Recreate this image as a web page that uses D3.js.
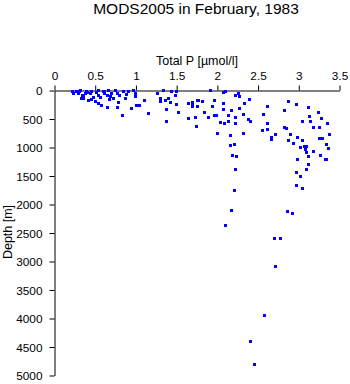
<!DOCTYPE html>
<html>
<head>
<meta charset="utf-8">
<script src="https://cdn.jsdelivr.net/npm/d3@7"></script>
<style>
  html, body { margin: 0; padding: 0; background: #fff; }
  svg { display: block; }
  text { font-family: "Liberation Sans", Arial, Helvetica, sans-serif; fill: #000; }
</style>
</head>
<body>
<svg id="chart" width="350" height="384"></svg>
<script>
// Total phosphorus [µmol/l] and sampling depth [m] per observation
const totalP = [
  0.22,0.23,0.29,0.32,0.34,0.35,0.38,0.42,0.46,0.48,0.50,0.54,0.54,0.54,0.58,0.60,0.65,0.65,0.66,0.69,
  0.72,0.75,0.77,0.78,0.77,0.83,0.85,0.87,0.91,0.95,0.97,0.99,0.99,1.01,1.04,1.10,1.15,1.26,1.30,1.30,
  1.34,1.36,1.37,1.37,1.40,1.42,1.44,1.49,1.50,1.50,1.52,1.64,1.64,1.69,1.70,1.73,1.74,1.75,1.76,
  0.27,0.31,0.36,0.40,0.44,0.52,0.57,0.62,0.70,0.80,0.45,0.33,0.61,0.68,0.88,0.39,
  1.91,2.07,2.10,2.22,2.26,2.27,2.40,1.77,1.82,1.70,1.76,1.69,1.84,1.89,1.94,1.96,1.96,1.99,2.07,2.08,
  2.14,2.17,2.22,2.27,2.32,2.33,2.38,2.41,2.04,2.09,2.14,2.22,2.00,2.16,2.32,2.16,2.21,2.18,2.23,
  2.61,2.57,2.61,2.61,2.55,2.66,2.66,2.72,2.82,2.87,2.97,2.83,2.85,2.87,2.90,2.94,2.98,3.04,3.04,3.02,
  3.07,3.10,3.08,3.10,3.12,3.13,3.14,3.18,3.12,2.98,3.24,3.18,3.26,3.28,3.25,3.29,3.27,3.34,3.36,3.35,
  3.38,3.33,
  2.22,2.21,2.17,2.10,3.34,3.12,3.12,3.10,2.97,3.02,2.97,3.05,2.86,2.92,2.70,2.77,
  2.71,2.58,2.41,2.45
];
const depth = [
  25,50,50,0,80,135,50,170,25,115,200,0,80,225,260,25,80,290,0,110,
  135,0,50,215,300,435,25,135,25,310,0,50,110,260,270,170,400,50,135,200,
  0,170,330,550,135,215,25,80,25,240,380,490,225,215,275,470,640,275,170,
  20,10,100,30,60,40,120,60,60,90,150,140,20,160,70,10,
  0,35,15,80,55,100,155,170,190,230,275,285,385,475,275,180,435,445,230,335,
  435,345,475,315,420,230,510,550,560,580,550,580,755,785,755,960,940,1135,1165,
  285,420,580,685,695,825,860,765,345,200,245,655,670,870,765,930,825,540,870,1000,
  990,990,1035,1095,300,450,550,1075,1165,1205,385,650,655,490,840,840,1145,945,1015,580,
  765,1205,
  1385,1760,2100,2365,1210,1160,1300,1385,1440,1505,1660,1720,2130,2155,2600,2600,
  3085,3955,4410,4800
];
const xTicks = [0, 0.5, 1, 1.5, 2, 2.5, 3, 3.5];
const yTicks = [0, 500, 1000, 1500, 2000, 2500, 3000, 3500, 4000, 4500, 5000];

const svg = d3.select("#chart");
const x = d3.scaleLinear().domain([0, 3.5]).range([54.5, 339.5]);
const y = d3.scaleLinear().domain([0, 5000]).range([90.5, 375.5]);

svg.append("text")
  .attr("x", 196).attr("y", 14)
  .attr("text-anchor", "middle")
  .style("font-size", "15.5px")
  .text("MODS2005 in February, 1983");

svg.append("text")
  .attr("x", 197).attr("y", 64.5)
  .attr("text-anchor", "middle")
  .style("font-size", "12.5px")
  .text("Total P [\u00b5mol/l]");

svg.append("text")
  .attr("transform", "translate(11.5,232) rotate(-90)")
  .attr("text-anchor", "middle")
  .style("font-size", "12.5px")
  .text("Depth [m]");

const xAxis = svg.append("g")
  .attr("transform", `translate(0,${y(0)})`)
  .call(d3.axisTop(x).tickValues(xTicks).tickSize(5).tickSizeOuter(0)
    .tickFormat(d => d3.format("")(d)));
const yAxis = svg.append("g")
  .attr("transform", `translate(${x(0)},0)`)
  .call(d3.axisLeft(y).tickValues(yTicks).tickSize(5).tickSizeOuter(0)
    .tickFormat(d => String(d)));

[xAxis, yAxis].forEach(g => {
  g.selectAll("path.domain").attr("stroke", "#000").attr("stroke-width", 1);
  g.selectAll(".tick line").attr("stroke", "#000").attr("stroke-width", 1);
  g.selectAll(".tick text")
    .style("font-family", '"Liberation Sans", Arial, sans-serif')
    .style("font-size", "11.8px").attr("fill", "#000");
});
xAxis.selectAll(".tick text").attr("dy", 0).attr("y", -10.5);
yAxis.selectAll(".tick text").attr("dy", "0.35em").attr("x", -12);

// Square markers snapped to whole pixels so they stay sharp
const pts = totalP.map((p, i) => ({ p, d: depth[i] }));
svg.append("g")
  .attr("shape-rendering", "crispEdges")
  .selectAll("rect")
  .data(pts)
  .join("rect")
  .attr("x", d => Math.floor(x(d.p)) - 1)
  .attr("y", d => Math.floor(y(d.d)) - 1)
  .attr("width", 3)
  .attr("height", 3)
  .attr("fill", "#0000ff");
</script>
</body>
</html>
